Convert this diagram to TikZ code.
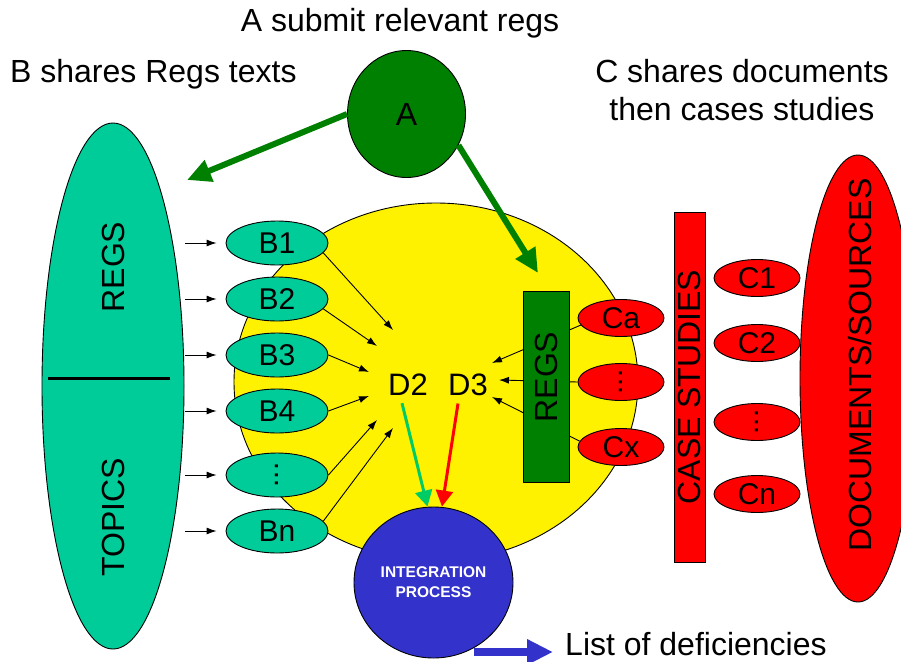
\documentclass[tikz,border=0pt]{standalone}
\usepackage{fontspec}
\setmainfont{Liberation Sans}
\usetikzlibrary{shapes.geometric,arrows.meta,calc}
\definecolor{tealc}{HTML}{00CC99}
\definecolor{dgreen}{HTML}{008000}
\definecolor{bluec}{HTML}{3333CC}
\definecolor{lgreen}{HTML}{00CC66}
\newcommand{\vdts}{\rotatebox{90}{...}}
\begin{document}
\begin{tikzpicture}[x=1pt,y=-1pt,
  every node/.style={font=\fontsize{32}{38}\selectfont},
  oval/.style={ellipse,draw=black,line width=0.9pt,inner sep=0pt},
  bnode/.style={oval,fill=tealc,minimum width=102pt,minimum height=44pt,font=\fontsize{30}{36}\selectfont},
  cnode/.style={oval,fill=red,minimum width=86pt,minimum height=37pt,font=\fontsize{30}{36}\selectfont},
  smallarrow/.style={-{Latex[length=10pt,width=7pt]},line width=0.9pt},
  bigarrow/.style={-{Triangle[length=24pt,width=22pt]},line width=6pt,dgreen},
  midarrow/.style={-{Triangle[length=16pt,width=17pt]},line width=3pt},
  barrow/.style={-{Triangle[length=26pt,width=24pt]},line width=8pt,bluec},
  dlab/.style={anchor=base,inner sep=0pt,font=\fontsize{31}{37}\selectfont}
]
\useasboundingbox (0,0) rectangle (901,661);

% left teal ellipse
\node[oval,fill=tealc,minimum width=142pt,minimum height=526pt] (regsE) at (113,386) {};
\node[rotate=90] (regsT) at (113,267) {REGS};
\node[rotate=90] (topT) at (113,517) {TOPICS};
\draw[line width=3pt] (48,378) -- (170,378);

% yellow circle
\node[oval,fill=yellow,minimum width=404pt,minimum height=358pt] (Y) at (436,382) {};

% B nodes
\foreach \y/\l/\n in {243/B1/1,299/B2/2,355/B3/3,411/B4/4,475/\vdts/5,531/Bn/6}{
  \coordinate (s\n) at (185,\y);
  \node[bnode] (b\n) at (277,\y) {\l};
  \draw[smallarrow,shorten >=9pt] (s\n) -- (b\n.west);
}

% D labels
\node[dlab] (D2) at (408,395) {D2};
\node[dlab] (D3) at (468,395) {D3};

% tips around D2
\coordinate (t1) at (393,330);
\coordinate (t2) at (377,346);
\coordinate (t3) at (369,372);
\coordinate (t4) at (369,396);
\coordinate (t5) at (377,420);
\coordinate (t6) at (393,428);
\draw[smallarrow] (b1.-12) -- (t1);
\draw[smallarrow] (b2.-12) -- (t2);
\draw[smallarrow] (b3.east) -- (t3);
\draw[smallarrow] (b4.east) -- (t4);
\draw[smallarrow] (b5.east) -- (t5);
\draw[smallarrow] (b6.12) -- (t6);

% C nodes inside
\node[cnode] (ca) at (621,318) {Ca};
\node[cnode] (cd) at (621,382) {\vdts};
\node[cnode] (cx) at (621,447) {Cx};
\coordinate (u1) at (492,363);
\coordinate (u2) at (499,380);
\coordinate (u3) at (492,397);
\draw[smallarrow] (ca.190) -- (u1);
\draw[smallarrow] (cd.west) -- (u2);
\draw[smallarrow] (cx.172) -- (u3);

% REGS rectangle
\node[draw=black,line width=0.9pt,fill=dgreen,minimum width=46pt,minimum height=191pt,inner sep=0pt] (R) at (546,386.5) {};
\node[rotate=90] (RT) at (546,377) {REGS};

% integration process
\node[oval,fill=bluec,minimum width=159pt,minimum height=151pt,text=white,align=center,
      font=\fontsize{15.5}{20}\bfseries\selectfont] (IP) at (433.5,582.5) {INTEGRATION\\PROCESS};
\draw[midarrow,lgreen] ($(D2.south)+(-6,8)$) -- ($(IP.north)+(-6,0)$);
\draw[midarrow,red] ($(D3.south)+(-10,8)$) -- ($(IP.north)+(8.5,0)$);

% list of deficiencies
\node[anchor=base west,inner sep=0pt] (L) at (565,655) {List of deficiencies};
\coordinate (bs) at (474,652);
\draw[barrow,shorten >=12pt] (bs) -- (bs -| L.west);

% case studies
\node[draw=black,line width=0.9pt,fill=red,rotate=90,minimum width=350pt,minimum height=31pt,inner sep=0pt] (CS) at (689.5,387) {CASE STUDIES};
\node[cnode] (c1) at (757,278) {C1};
\node[cnode] (c2) at (757,343) {C2};
\node[cnode] (c3) at (757,422) {\vdts};
\node[cnode] (cn) at (757,494) {Cn};

% documents/sources
\node[oval,fill=red,minimum width=116pt,minimum height=447pt] (DS) at (858,378.5) {};
\node[rotate=90] (DST) at (860,365) {DOCUMENTS/SOURCES};

% A
\coordinate (tA) at (187,180);
\coordinate (tB) at (538,273);
\node[oval,fill=dgreen,minimum width=118pt,minimum height=127pt] (A) at (406.5,114) {A};
\draw[bigarrow] (A.west) -- (tA);
\draw[bigarrow] (A.-31) -- (tB);

% titles
\node[anchor=base] (T1) at (400,32) {A submit relevant regs};
\node[anchor=base west,inner sep=0pt] (T2) at (10,82) {B shares Regs texts};
\node[anchor=base] (T3) at (742,82) {C shares documents};
\node[anchor=base] (T4) at (742,120) {then cases studies};
\end{tikzpicture}
\end{document}
